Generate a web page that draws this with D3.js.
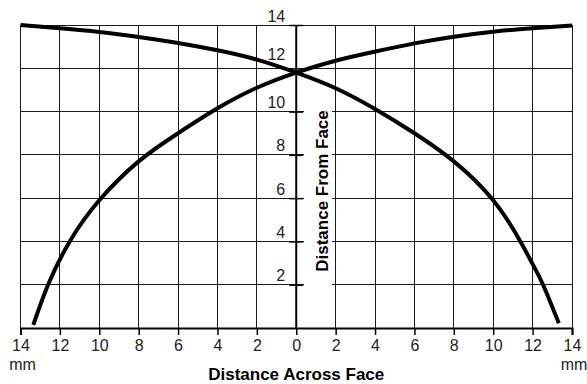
<!DOCTYPE html>
<html>
<head>
<meta charset="utf-8">
<script src="https://cdn.jsdelivr.net/npm/d3@7"></script>
<style>
  body { margin: 0; background: #fff; }
  svg { display: block; font-family: "Liberation Sans", Arial, sans-serif; }
  .grid line { stroke: #1a1a1a; stroke-width: 1; shape-rendering: crispEdges; }
  .tick text { font-size: 16px; fill: #222; }
  .title { font-size: 17px; font-weight: bold; fill: #000; }
</style>
</head>
<body>
<svg width="587" height="384"></svg>
<script>
// tick values, both axes (mm)
var xTicks = [-14, -12, -10, -8, -6, -4, -2, 0, 2, 4, 6, 8, 10, 12, 14];
var yTicks = [2, 4, 6, 8, 10, 12, 14];

// curve falling from the left edge
var fallX = [-14, -12, -10, -8, -6, -4, -2, 0, 2, 4, 6, 8, 10, 11.38, 12, 12.53, 13.33];
var fallY = [14.0, 13.85, 13.68, 13.45, 13.17, 12.83, 12.4, 11.8, 11.08, 10.12, 9.0, 7.7, 5.9, 4.0, 2.95, 2.0, 0.22];

// curve rising to the right edge
var riseX = [-13.35, -12.6, -11.5, -10, -8, -6, -4, -2, 0, 2, 4, 6, 8, 10, 12, 14];
var riseY = [0.14, 2.0, 4.0, 5.9, 7.7, 9.0, 10.15, 11.1, 11.8, 12.35, 12.77, 13.15, 13.46, 13.69, 13.85, 13.98];

var svg = d3.select("svg");

var x = d3.scaleLinear().domain([-14, 14]).range([20.5, 572]);
var y = d3.scaleLinear().domain([0, 14]).range([328, 25]);

// grid
var grid = svg.append("g").attr("class", "grid");
grid.selectAll(".v")
  .data(xTicks.filter(d => d !== 0))
  .enter().append("line")
    .attr("x1", d => x(d)).attr("x2", d => x(d))
    .attr("y1", y(14)).attr("y2", y(0));
grid.selectAll(".h")
  .data(yTicks)
  .enter().append("line")
    .attr("x1", x(-14)).attr("x2", x(14))
    .attr("y1", d => y(d)).attr("y2", d => y(d));

// white patch behind the vertical title
svg.append("rect")
  .attr("x", 304).attr("y", 100)
  .attr("width", 28).attr("height", 192)
  .attr("fill", "#fff");

// bottom axis
var xAxis = svg.append("g")
  .attr("transform", "translate(0," + y(0) + ")")
  .call(d3.axisBottom(x).tickValues(xTicks).tickSize(7).tickPadding(5)
        .tickFormat(d => Math.abs(d)));
xAxis.select(".domain").attr("stroke", "#000").attr("stroke-width", 2);
xAxis.selectAll(".tick line").attr("stroke", "#000").attr("stroke-width", 1.5);

// "mm" under both end labels
svg.selectAll(".unit")
  .data([-14, 14])
  .enter().append("text")
    .attr("x", d => x(d) + 2)
    .attr("y", 370)
    .attr("text-anchor", "middle")
    .attr("font-size", 16)
    .attr("fill", "#222")
    .text("mm");

// centre vertical axis
var yAxis = svg.append("g")
  .attr("transform", "translate(" + x(0) + ",0)")
  .call(d3.axisLeft(y).tickValues(yTicks).tickSize(7).tickPadding(4));
yAxis.select(".domain").attr("d", "M0," + y(0) + "V" + y(14))
  .attr("stroke", "#000").attr("stroke-width", 2);
yAxis.selectAll(".tick line").attr("x1", -7).attr("x2", 7)
  .attr("stroke", "#000").attr("stroke-width", 1.5);
yAxis.selectAll(".tick text")
  .attr("x", -11)
  .attr("dy", d => d === 12 ? "-9px" : "-4px");

// curves
var line = d3.line()
  .x(d => x(d[0]))
  .y(d => y(d[1]))
  .curve(d3.curveNatural);

[d3.zip(fallX, fallY), d3.zip(riseX, riseY)].forEach(pts => {
  svg.append("path")
    .datum(pts)
    .attr("d", line)
    .attr("fill", "none")
    .attr("stroke", "#000")
    .attr("stroke-width", 4);
});

// titles
svg.append("text")
  .attr("class", "title")
  .attr("x", x(0))
  .attr("y", 380)
  .attr("text-anchor", "middle")
  .text("Distance Across Face");

svg.append("text")
  .attr("class", "title")
  .attr("transform", "translate(327.5," + 191 + ") rotate(-90)")
  .attr("text-anchor", "middle")
  .text("Distance From Face");
</script>
</body>
</html>
